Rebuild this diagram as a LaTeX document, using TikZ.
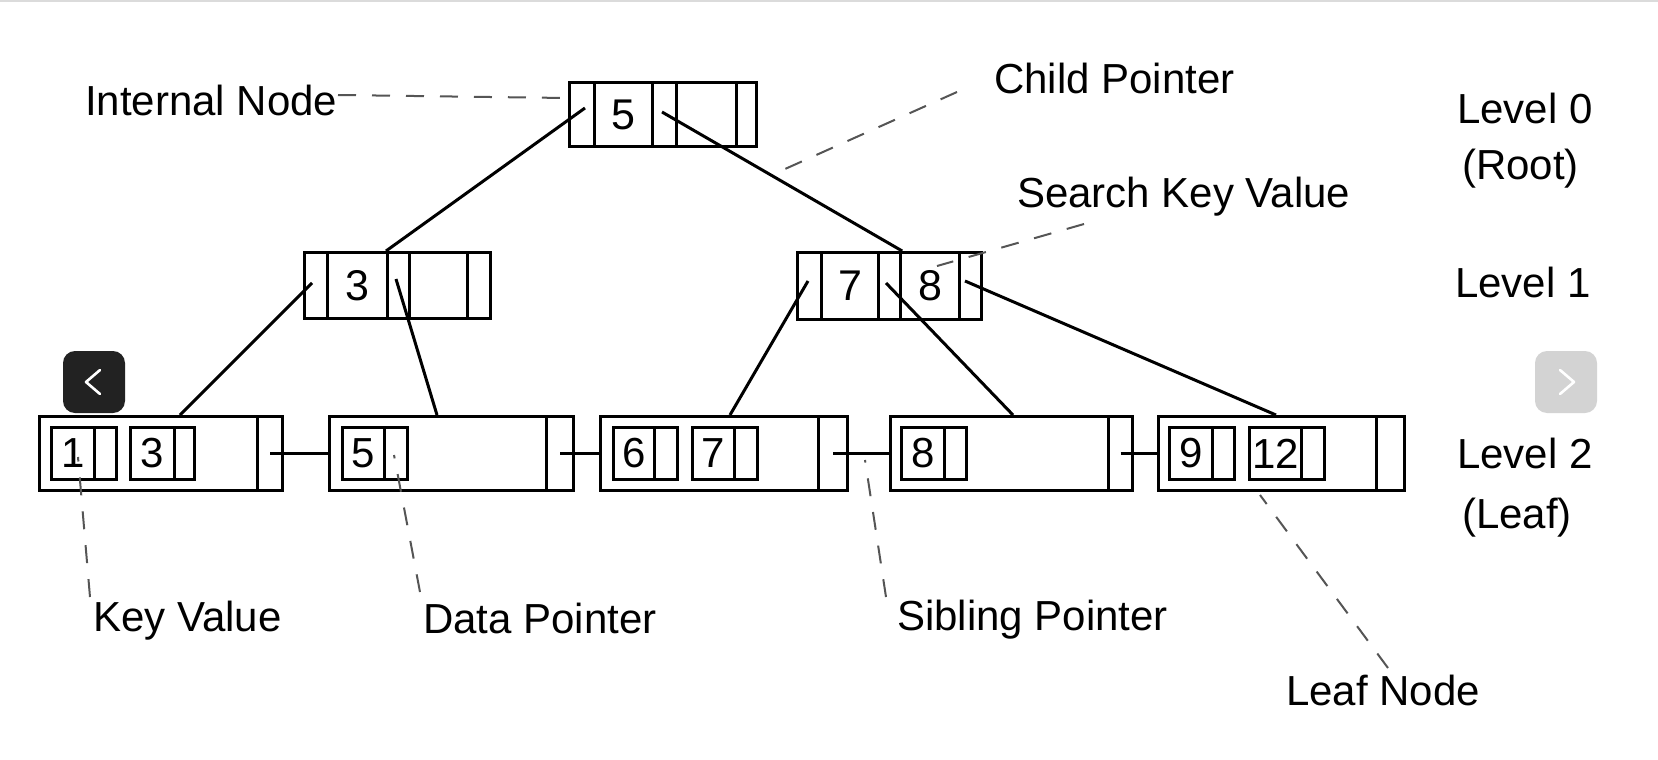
\documentclass[tikz,border=0pt]{standalone}
\usepackage{fontspec}
\setmainfont{Liberation Sans}
\usetikzlibrary{calc}
\definecolor{btndark}{HTML}{222222}
\definecolor{btnlight}{HTML}{D3D3D3}
\definecolor{annotgray}{HTML}{555555}
\begin{document}
\begin{tikzpicture}[x=1pt,y=-1pt,
  cell/.style={draw, line width=3.2pt, inner sep=0pt, anchor=north west,
    font=\fontsize{43pt}{50pt}\selectfont},
  ibox/.style={draw, line width=2.8pt, inner sep=0pt, anchor=north west,
    minimum height=52pt, font=\fontsize{42pt}{48pt}\selectfont},
  lbl/.style={inner sep=0pt, anchor=base west, font=\fontsize{42pt}{50pt}\selectfont},
  link/.style={line width=3pt},
  annot/.style={line width=2pt, draw=annotgray, dash pattern=on 18pt off 16pt},
  btn/.style={rounded corners=12pt, minimum width=62pt, minimum height=62pt, inner sep=0pt},
]
\useasboundingbox (0,0) rectangle (1658,760);
\fill[white] (0,0) rectangle (1658,760);
\fill[black!14] (0,0) rectangle (1658,2);

% ---- root (level 0)
\node[cell, minimum width=25pt, minimum height=64pt] (r0) at (568,81) {};
\node[cell, minimum width=58pt, minimum height=64pt] (r1) at (593,81) {5};
\node[cell, minimum width=24pt, minimum height=64pt] (r2) at (651,81) {};
\node[cell, minimum width=60pt, minimum height=64pt] (r3) at (675,81) {};
\node[cell, minimum width=20pt, minimum height=64pt] (r4) at (735,81) {};

% ---- level 1 left
\node[cell, minimum width=23pt, minimum height=66pt] (a0) at (303,251) {};
\node[cell, minimum width=60pt, minimum height=66pt] (a1) at (326,251) {3};
\node[cell, minimum width=22pt, minimum height=66pt] (a2) at (386,251) {};
\node[cell, minimum width=58pt, minimum height=66pt] (a3) at (408,251) {};
\node[cell, minimum width=23pt, minimum height=66pt] (a4) at (466,251) {};

% ---- level 1 right
\node[cell, minimum width=24pt, minimum height=67pt] (b0) at (796,251) {};
\node[cell, minimum width=57pt, minimum height=67pt] (b1) at (820,251) {7};
\node[cell, minimum width=22pt, minimum height=67pt] (b2) at (877,251) {};
\node[cell, minimum width=59pt, minimum height=67pt] (b3) at (899,251) {8};
\node[cell, minimum width=22pt, minimum height=67pt] (b4) at (958,251) {};

% ---- leaves (level 2)
\node[cell, minimum width=218pt, minimum height=74pt] (leaf1) at (38,415) {};
\node[cell, minimum width=25pt, minimum height=74pt] (leaf1s) at (256,415) {};
\node[cell, minimum width=217pt, minimum height=74pt] (leaf2) at (328,415) {};
\node[cell, minimum width=27pt, minimum height=74pt] (leaf2s) at (545,415) {};
\node[cell, minimum width=218pt, minimum height=74pt] (leaf3) at (599,415) {};
\node[cell, minimum width=29pt, minimum height=74pt] (leaf3s) at (817,415) {};
\node[cell, minimum width=218pt, minimum height=74pt] (leaf4) at (889,415) {};
\node[cell, minimum width=24pt, minimum height=74pt] (leaf4s) at (1107,415) {};
\node[cell, minimum width=218pt, minimum height=74pt] (leaf5) at (1157,415) {};
\node[cell, minimum width=28pt, minimum height=74pt] (leaf5s) at (1375,415) {};

% inner key/pointer boxes
\node[ibox, minimum width=43pt] (k11) at (50,426) {1};
\node[ibox, minimum width=22pt] (p11) at (93,426) {};
\node[ibox, minimum width=44pt] (k12) at (129,426) {3};
\node[ibox, minimum width=20pt] (p12) at (173,426) {};
\node[ibox, minimum width=42pt] (k21) at (341,426) {5};
\node[ibox, minimum width=23pt] (p21) at (383,426) {};
\node[ibox, minimum width=41pt] (k31) at (612,426) {6};
\node[ibox, minimum width=23pt] (p31) at (653,426) {};
\node[ibox, minimum width=42pt] (k32) at (691,426) {7};
\node[ibox, minimum width=23pt] (p32) at (733,426) {};
\node[ibox, minimum width=43pt] (k41) at (900,426) {8};
\node[ibox, minimum width=22pt] (p41) at (943,426) {};
\node[ibox, minimum width=43pt] (k51) at (1168,426) {9};
\node[ibox, minimum width=22pt] (p51) at (1211,426) {};
\node[ibox, minimum width=52pt] (k52) at (1248,426) {12};
\node[ibox, minimum width=23pt] (p52) at (1300,426) {};

% ---- child pointers
\coordinate (r0p) at (585,108);
\coordinate (r2p) at (662,112);
\coordinate (a0p) at (312,283);
\coordinate (a2p) at (396,279);
\coordinate (b0p) at (808,281);
\coordinate (b2p) at (886,283);
\coordinate (b4p) at (965,281);
\draw[link] (r0p) -- (a2.north west);
\draw[link] (r2p) -- (b2.north east);
\draw[link] (a0p) -- ([xshift=142pt]leaf1.north west);
\draw[link] (a2p) -- ([xshift=109pt]leaf2.north west);
\draw[link] (b0p) -- ([xshift=131pt]leaf3.north west);
\draw[link] (b2p) -- ([xshift=124pt]leaf4.north west);
\draw[link] (b4p) -- ([xshift=119pt]leaf5.north west);

% ---- sibling pointers
\draw[link] (leaf1s.center) -- (leaf2.west);
\draw[link] (leaf2s.center) -- (leaf3.west);
\draw[link] (leaf3s.center) -- (leaf4.west);
\draw[link] (leaf4s.center) -- (leaf5.west);

% ---- labels
\node[lbl] (lint) at (85,115) {Internal Node};
\node[lbl] (lchild) at (994,93) {Child Pointer};
\node[lbl] (lsearch) at (1017,207) {Search Key Value};
\node[lbl] (lkey) at (93,631) {Key Value};
\node[lbl] (ldata) at (423,633) {Data Pointer};
\node[lbl] (lsib) at (897,630) {Sibling Pointer};
\node[lbl] (lleaf) at (1286,705) {Leaf Node};
\node[lbl] (lv0) at (1457,124) {Level 0};
\node[lbl] (lroot) at (1462,179) {(Root)};
\node[lbl] (lv1) at (1455,297) {Level 1};
\node[lbl] (lv2) at (1457,468) {Level 2};
\node[lbl] (lleafl) at (1462,528) {(Leaf)};

% ---- annotation lines
\coordinate (cint) at (566,98);
\coordinate (cchild) at (785,169);
\coordinate (csearch) at (937,266);
\coordinate (ckey) at (78,457);
\coordinate (cdata) at (394,455);
\coordinate (csib) at (865,460);
\coordinate (cleaf) at (1260,495);
\draw[annot] (338,95) -- (cint);
\draw[annot] (957,92) -- (cchild);
\draw[annot] (1084,224) -- (csearch);
\draw[annot] (90,597) -- (ckey);
\draw[annot] (420,592) -- (cdata);
\draw[annot] (886,597) -- (csib);
\draw[annot] (1388,668) -- (cleaf);

% ---- carousel buttons
\node[btn, fill=btndark] (prevbtn) at (94,382) {};
\draw[white, line width=2.6pt, line cap=round, line join=round]
  ([xshift=6pt,yshift=12pt]prevbtn.center) -- ([xshift=-8pt]prevbtn.center) -- ([xshift=6pt,yshift=-12pt]prevbtn.center);
\node[btn, fill=btnlight] (nextbtn) at (1566,382) {};
\draw[white, line width=2.6pt, line cap=round, line join=round]
  ([xshift=-6pt,yshift=12pt]nextbtn.center) -- ([xshift=8pt]nextbtn.center) -- ([xshift=-6pt,yshift=-12pt]nextbtn.center);
\end{tikzpicture}
\end{document}
